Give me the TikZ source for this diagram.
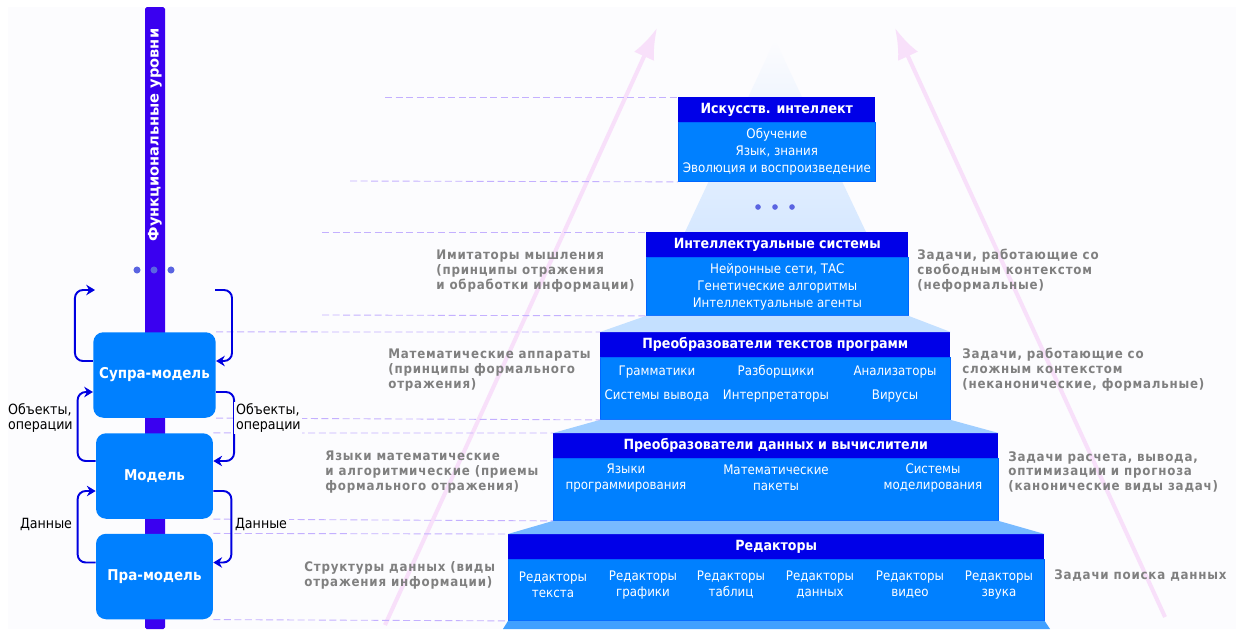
\documentclass[tikz,border=0pt]{standalone}
\usepackage{fontspec}
\setmainfont{DejaVu Sans Condensed}
\newfontfamily\widefont{DejaVu Sans}
\newfontfamily\grayfont{DejaVu Sans Condensed}[LetterSpace=6]
\usetikzlibrary{positioning,arrows.meta,calc}

\definecolor{bgwhite}{RGB}{252,252,254}
\definecolor{barblue}{RGB}{58,0,240}
\definecolor{boxblue}{RGB}{0,128,255}
\definecolor{titleblue}{RGB}{0,0,232}
\definecolor{loopblue}{RGB}{0,0,224}
\definecolor{dashlilac}{RGB}{196,176,255}
\definecolor{pinkarr}{RGB}{248,224,250}
\definecolor{labelgray}{RGB}{128,128,128}
\definecolor{dotblue}{RGB}{90,100,225}
\definecolor{pyrA}{RGB}{214,232,255}
\definecolor{pyrB}{RGB}{196,224,255}
\definecolor{pyrC}{RGB}{160,206,255}
\definecolor{pyrD}{RGB}{120,186,255}
\definecolor{pyrE}{RGB}{64,160,255}

\begin{document}
\begin{tikzpicture}[x=0.02cm,y=-0.02cm,>=Stealth,
  lvltitle/.style={fill=titleblue,text=white,inner sep=0pt,anchor=north west,
    minimum height=0.49cm,font=\bfseries\fontsize{8}{9}\selectfont},
  lvlbody/.style={fill=boxblue,draw=boxblue!80!blue,line width=0.4pt,inner sep=0pt},
  item/.style={text=white,align=center,inner sep=0pt,font=\fontsize{7.5}{9.6}\selectfont},
  graytext/.style={text=labelgray,align=left,inner sep=0pt,anchor=west,
    font=\grayfont\bfseries\fontsize{7.5}{8.5}\selectfont},
  modbox/.style={fill=boxblue,rounded corners=0.2cm,minimum width=2.34cm,
    minimum height=1.71cm,text=white,font=\bfseries\fontsize{8.5}{10}\selectfont},
  looparrow/.style={draw=loopblue,line width=1.1pt,rounded corners=0.16cm,
    -{Stealth[length=5pt,width=6pt]}},
  dashline/.style={dashlilac,dash pattern=on 4pt off 2pt,line width=0.5pt},
  looplabel/.style={align=left,inner sep=1pt,anchor=west,font=\fontsize{8}{8.6}\selectfont},
  pinkarrow/.style={pinkarr,line width=2.3pt,-{Latex[length=0.62cm,width=0.44cm]}}]

  \useasboundingbox (0,0) rectangle (1236,629);
  \fill[white] (0,0) rectangle (1236,629);
  \fill[bgwhite] (8,7) rectangle (1236,629);

  % pink arrows behind everything
  \coordinate (pinkL0) at (385,625); \coordinate (pinkL1) at (657,28);
  \coordinate (pinkR0) at (1165,617); \coordinate (pinkR1) at (895,28);
  \draw[pinkarrow] (pinkL0) -- (pinkL1);
  \draw[pinkarrow] (pinkR0) -- (pinkR1);

  % top of the pyramid
  \shade[top color=bgwhite,bottom color=pyrA] (775,40) -- (866,232) -- (685,232) -- cycle;
  \foreach \x in {758,775,792} \fill[dotblue] (\x,207) circle (1.6pt);

  % levels
  \node[lvltitle,minimum width=3.94cm] (aiT) at (678,97) {Искусств. интеллект};
  \node[lvlbody,minimum width=3.94cm,minimum height=1.18cm,below=0pt of aiT] (aiB) {};
  \node[item] (aiI) at (aiB) {Обучение\\Язык, знания\\Эволюция и воспроизведение};

  \node[lvltitle,minimum width=5.24cm] (isT) at (646,232) {Интеллектуальные системы};
  \node[lvlbody,minimum width=5.24cm,minimum height=1.16cm,below=0pt of isT] (isB) {};
  \node[item] (isI) at (isB) {Нейронные сети, ТАС\\Генетические алгоритмы\\Интеллектуальные агенты};

  \node[lvltitle,minimum width=7.0cm] (ptpT) at (600,332) {Преобразователи текстов программ};
  \node[lvlbody,minimum width=7.0cm,minimum height=1.24cm,below=0pt of ptpT] (ptpB) {};
  \node[item,font=\fontsize{7.5}{13.6}\selectfont] (ptpI1) at (657,384) {Грамматики\\Системы вывода};
  \node[item,font=\fontsize{7.5}{13.6}\selectfont] (ptpI2) at (776,384) {Разборщики\\Интерпретаторы};
  \node[item,font=\fontsize{7.5}{13.6}\selectfont] (ptpI3) at (895,384) {Анализаторы\\Вирусы};

  \node[lvltitle,minimum width=8.9cm] (pdT) at (553,433) {Преобразователи данных и вычислители};
  \node[lvlbody,minimum width=8.9cm,minimum height=1.24cm,below=0pt of pdT] (pdB) {};
  \node[item,font=\fontsize{7.5}{9}\selectfont] (pdI1) at (626,478) {Языки\\программирования};
  \node[item,font=\fontsize{7.5}{9}\selectfont] (pdI2) at (776,478) {Математические\\пакеты};
  \node[item,font=\fontsize{7.5}{9}\selectfont] (pdI3) at (933,478) {Системы\\моделирования};

  \node[lvltitle,minimum width=10.72cm] (redT) at (508,534) {Редакторы};
  \node[lvlbody,minimum width=10.72cm,minimum height=1.22cm,below=0pt of redT] (redB) {};
  \node[item,font=\fontsize{7.5}{9}\selectfont] (redI1) at (553,585) {Редакторы\\текста};
  \node[item,font=\fontsize{7.5}{9}\selectfont] (redI2) at (643,585) {Редакторы\\графики};
  \node[item,font=\fontsize{7.5}{9}\selectfont] (redI3) at (731,585) {Редакторы\\таблиц};
  \node[item,font=\fontsize{7.5}{9}\selectfont] (redI4) at (820,585) {Редакторы\\данных};
  \node[item,font=\fontsize{7.5}{9}\selectfont] (redI5) at (910,585) {Редакторы\\видео};
  \node[item,font=\fontsize{7.5}{9}\selectfont] (redI6) at (999,585) {Редакторы\\звука};

  % steps of the pyramid between levels
  \fill[pyrB] (isB.south west) -- (isB.south east) -- (ptpT.north east) -- (ptpT.north west) -- cycle;
  \fill[pyrC] (ptpB.south west) -- (ptpB.south east) -- (pdT.north east) -- (pdT.north west) -- cycle;
  \fill[pyrD] (pdB.south west) -- (pdB.south east) -- (redT.north east) -- (redT.north west) -- cycle;
  \fill[pyrE] (redB.south west) -- (redB.south east) -- (1050,629) -- (503,629) -- cycle;

  % functional levels bar
  \fill[barblue,rounded corners=1pt] (145,7) rectangle (165,629);
  \node[rotate=90,text=white,inner sep=0pt,font=\widefont\bfseries\fontsize{8.3}{9}\selectfont]
    (barlabel) at (155,135) {Функциональные уровни};
  \foreach \x in {137,154,171} \fill[dotblue] (\x,270) circle (2pt);

  \node[modbox] (supra) at (154.5,375) {Супра-модель};
  \node[modbox] (model) at (154.5,476) {Модель};
  \node[modbox] (pra) at (154.5,576.5) {Пра-модель};

  % dashed level lines
  \coordinate (aiD1) at (385,97); \coordinate (aiD2) at (350,181);
  \coordinate (isD1) at (322,232); \coordinate (isD2) at (322,315);
  \draw[dashline] (aiD1) -- (aiT.north west);
  \draw[dashline] (aiD2) -- (aiB.south west);
  \draw[dashline] (isD1) -- (isT.north west);
  \draw[dashline] (isD2) -- (isB.south west);
  \draw[dashline] (supra.north east) -- (ptpT.north west);
  \draw[dashline] (supra.south east) -- (ptpB.south west);
  \draw[dashline] (model.north east) -- (pdT.north west);
  \draw[dashline] (model.south east) -- (pdB.south west);
  \draw[dashline] (pra.north east) -- (redT.north west);
  \draw[dashline] (pra.south east) -- (redB.south west);

  % loops between the models
  \coordinate (topL) at (95,290); \coordinate (topR) at (215,290);
  \draw[looparrow] ($(supra.west)+(0,-14)$) -- ++(-18,0) |- (topL);
  \draw[looparrow] (topR) -- ++(17,0) |- ($(supra.east)+(0,-14)$);
  \draw[looparrow] ($(model.west)+(0,-15)$) -- ++(-18,0) |- ($(supra.west)+(0,17)$);
  \draw[looparrow] ($(supra.east)+(0,17)$) -- ++(18,0) |- ($(model.east)+(0,-15)$);
  \draw[looparrow] ($(pra.west)+(0,-14)$) -- ++(-18,0) |- ($(model.west)+(0,15)$);
  \draw[looparrow] ($(model.east)+(0,15)$) -- ++(18,0) |- ($(pra.east)+(0,-14)$);

  \node[looplabel] (objL) at (6,418) {Объекты,\\операции};
  \node[looplabel,fill=bgwhite] (objR) at (234,418) {Объекты,\\операции};
  \node[looplabel] (datL) at (18,524) {Данные};
  \node[looplabel,fill=bgwhite] (datR) at (233,524) {Данные};

  % descriptions
  \node[graytext] (descL1) at (436,271) {Имитаторы мышления\\(принципы отражения\\и обработки информации)};
  \node[graytext] (descL2) at (388,370) {Математические аппараты\\(принципы формального\\отражения)};
  \node[graytext] (descL3) at (325,472) {Языки математические\\и алгоритмические (приемы\\формального отражения)};
  \node[graytext] (descL4) at (304,575) {Структуры данных (виды\\отражения информации)};
  \node[graytext] (descR1) at (917,271) {Задачи, работающие со\\свободным контекстом\\(неформальные)};
  \node[graytext] (descR2) at (962,370) {Задачи, работающие со\\сложным контекстом\\(неканонические, формальные)};
  \node[graytext] (descR3) at (1008,472) {Задачи расчета, вывода,\\оптимизации и прогноза\\(канонические виды задач)};
  \node[graytext] (descR4) at (1054,576) {Задачи поиска данных};
\end{tikzpicture}
\end{document}
